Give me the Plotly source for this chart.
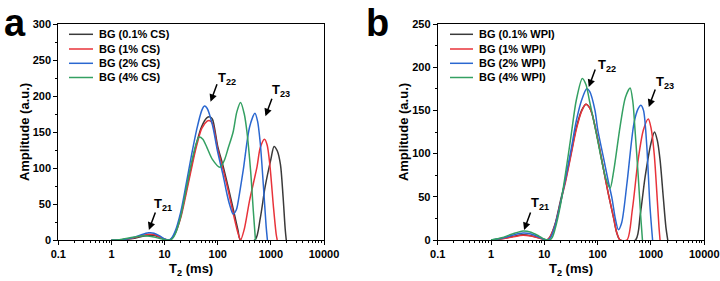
import plotly.graph_objects as go

# ---------------- data (T2 in ms, amplitude in a.u.) ----------------
SERIES_A = ["BG (0.1% CS)", "BG (1% CS)", "BG (2% CS)", "BG (4% CS)"]
SERIES_B = ["BG (0.1% WPI)", "BG (1% WPI)", "BG (2% WPI)", "BG (4% WPI)"]
COLORS = ["#3a3a3a", "#e8333a", "#2a67d0", "#34a062"]

# panel a
T2_A_01 = [1.0, 1.58, 2.51, 3.55, 5.01, 6.31, 7.94, 10.0, 11.7, 13.2, 15.8, 20.0, 25.1, 31.6, 39.8, 50.1, 63.1, 70.8, 79.4, 100, 126, 158, 200, 240, 269, 501, 631, 776, 1000, 1148, 1318, 1514, 1698, 1862, 1950]
AMP_A_01 = [0, 0.5, 2, 4.5, 6.5, 6.5, 4, 1, 0, 1, 10, 33, 66, 101, 134, 158, 170, 171, 168, 130, 103, 73, 40, 14, 0, 0, 30, 73, 112, 130, 124, 105, 60, 15, 0]
T2_A_1 = [1.0, 1.58, 2.51, 3.55, 5.01, 6.31, 7.94, 10.0, 11.7, 13.2, 15.8, 20.0, 25.1, 31.6, 39.8, 50.1, 63.1, 69.2, 79.4, 100, 126, 158, 200, 240, 269, 316, 398, 550, 631, 759, 851, 955, 1122, 1259, 1318]
AMP_A_1 = [0, 0.5, 2.5, 5.5, 8, 7.5, 4.5, 1, 0, 1, 9, 30, 62, 97, 130, 155, 165, 166, 162, 126, 98, 68, 34, 10, 0, 15, 55, 102, 128, 140, 132, 105, 45, 8, 0]
T2_A_2 = [1.0, 1.58, 2.51, 3.55, 5.01, 6.31, 7.94, 10.0, 11.7, 13.2, 15.8, 20.0, 25.1, 31.6, 39.8, 50.1, 56.2, 63.1, 79.4, 100, 126, 148, 166, 195, 224, 251, 302, 398, 501, 562, 631, 724, 813, 861]
AMP_A_2 = [0, 0.5, 3, 7, 10, 9.5, 6, 1.5, 0, 1.5, 12, 38, 75, 115, 152, 180, 186, 183, 160, 122, 90, 65, 50, 36, 42, 60, 97, 157, 176, 165, 135, 75, 20, 0]
T2_A_4 = [1.0, 1.41, 2.24, 3.16, 4.17, 5.62, 7.94, 10.0, 12.6, 14.1, 15.8, 20.0, 25.1, 31.6, 38.0, 44.7, 52.5, 63.1, 79.4, 110, 132, 158, 195, 229, 269, 316, 355, 417, 468, 513, 513]
AMP_A_4 = [0, 0.5, 3, 5, 6, 5, 2.5, 0.5, 0, 2, 8, 32, 68, 105, 130, 143, 140, 128, 112, 101, 110, 128, 150, 178, 191, 175, 150, 95, 40, 0, 0]

# panel b
T2_B_01 = [1.0, 1.58, 2.51, 3.98, 5.62, 7.94, 10.0, 11.2, 12.6, 15.8, 20.0, 25.1, 31.6, 39.8, 50.1, 60.3, 70.8, 79.4, 100, 126, 158, 200, 229, 263, 513, 631, 776, 1000, 1161, 1318, 1479, 1698, 1905, 2065]
AMP_B_01 = [0, 1.5, 4, 6, 5, 2.5, 0.5, 0, 3, 18, 45, 70, 100, 130, 150, 157, 153, 145, 117, 85, 54, 25, 8, 0, 0, 30, 73, 112, 125, 115, 93, 50, 15, 0]
T2_B_1 = [1.0, 1.58, 2.51, 3.98, 5.62, 7.94, 10.0, 11.2, 12.6, 15.8, 20.0, 25.1, 31.6, 39.8, 50.1, 59.9, 70.8, 79.4, 100, 126, 158, 200, 229, 263, 355, 447, 575, 724, 891, 1000, 1148, 1318, 1413, 1479]
AMP_B_1 = [0, 1.3, 3.5, 5.5, 4.5, 2.3, 0.5, 0, 3, 17, 43, 68, 98, 128, 149, 157, 153, 145, 117, 85, 54, 25, 8, 0, 0, 35, 93, 128, 140, 130, 100, 45, 15, 0]
T2_B_2 = [1.0, 1.58, 2.51, 3.98, 5.62, 7.94, 10.0, 11.5, 13.2, 15.8, 20.0, 25.1, 31.6, 39.8, 50.1, 62.4, 70.8, 89.1, 100, 126, 158, 186, 214, 245, 282, 355, 479, 575, 646, 724, 832, 955, 1072]
AMP_B_2 = [0, 2, 5.5, 8, 7, 3.5, 0.5, 0, 3, 16, 42, 72, 104, 138, 162, 175, 172, 150, 128, 98, 68, 48, 25, 12, 20, 66, 135, 152, 156, 150, 110, 40, 0]
T2_B_4 = [1.0, 1.58, 2.51, 3.98, 5.62, 7.94, 10.0, 12.0, 12.6, 14.1, 15.8, 20.0, 25.1, 31.6, 39.8, 51.6, 60.3, 70.8, 89.1, 112, 141, 171, 200, 263, 331, 406, 457, 501, 575, 646, 692]
AMP_B_4 = [0, 2.5, 7, 10.5, 9, 4.5, 1, 0, 0, 3, 12, 40, 78, 120, 162, 187, 180, 160, 131, 100, 72, 60, 80, 131, 165, 176, 160, 128, 75, 25, 0]

X_TICKS = [0.1, 1, 10, 100, 1000, 10000]
X_TICK_LABELS = ["0.1", "1", "10", "100", "1000", "10000"]

FONT = "Liberation Sans, Arial, sans-serif"
W, H = 720, 281

fig = go.Figure()

series_a = [(T2_A_01, AMP_A_01), (T2_A_1, AMP_A_1), (T2_A_2, AMP_A_2), (T2_A_4, AMP_A_4)]
series_b = [(T2_B_01, AMP_B_01), (T2_B_1, AMP_B_1), (T2_B_2, AMP_B_2), (T2_B_4, AMP_B_4)]

for name, (x, y), c in zip(SERIES_A, series_a, COLORS):
    fig.add_trace(go.Scatter(x=x, y=y, name=name, mode="lines", showlegend=False,
                             line=dict(color=c, width=1.5, shape="spline", smoothing=0.8),
                             xaxis="x", yaxis="y"))
for name, (x, y), c in zip(SERIES_B, series_b, COLORS):
    fig.add_trace(go.Scatter(x=x, y=y, name=name, mode="lines", showlegend=False,
                             line=dict(color=c, width=1.5, shape="spline", smoothing=0.8),
                             xaxis="x2", yaxis="y2"))

ydom = [(H - 240) / H, (H - 24) / H]
xa_dom = [58.3 / W, 324 / W]
xb_dom = [437.7 / W, 704.3 / W]

def xaxis(domain, anchor):
    return dict(type="log", range=[-1, 4], domain=domain, anchor=anchor, automargin=False,
                tickvals=X_TICKS, ticktext=X_TICK_LABELS,
                ticks="outside", ticklen=4, tickwidth=1, tickcolor="black",
                minor=dict(ticks="outside", ticklen=2, tickcolor="black", dtick="D1"),
                showline=True, linecolor="black", linewidth=1, mirror=True,
                showgrid=False, zeroline=False,
                tickfont=dict(family=FONT, size=11, color="black", weight="bold"),
                title=dict(text="T<sub>2</sub> (ms)", standoff=4,
                           font=dict(family=FONT, size=13, color="black", weight="bold")))

def yaxis(domain, anchor, top):
    return dict(range=[0, top], domain=domain, anchor=anchor, dtick=50, automargin=False,
                ticks="outside", ticklen=4, tickwidth=1, tickcolor="black",
                minor=dict(ticks="outside", ticklen=2, tickcolor="black", dtick=25),
                showline=True, linecolor="black", linewidth=1, mirror=True,
                showgrid=False, zeroline=False,
                tickfont=dict(family=FONT, size=11, color="black", weight="bold"),
                title=dict(text="Amplitude (a.u.)", standoff=0,
                           font=dict(family=FONT, size=13, color="black", weight="bold")))

fig.update_layout(
    width=W, height=H, margin=dict(l=0, r=0, t=0, b=0),
    paper_bgcolor="white", plot_bgcolor="white", showlegend=False,
    font=dict(family=FONT, color="black"),
    xaxis=xaxis(xa_dom, "y"), yaxis=yaxis(ydom, "x", 300),
    xaxis2=xaxis(xb_dom, "y2"), yaxis2=yaxis(ydom, "x2", 250),
)

# manual legends (line sample + text), pixel positions
LEG_ROWS_Y = [34.3, 49.0, 63.3, 77.5]
for names, lx0, lx1, tx in [(SERIES_A, 69, 93, 97), (SERIES_B, 450, 473, 477)]:
    for name, c, yy in zip(names, COLORS, LEG_ROWS_Y):
        fig.add_shape(type="line", xref="paper", yref="paper",
                      x0=lx0 / W, x1=lx1 / W, y0=1 - yy / H, y1=1 - yy / H,
                      line=dict(color=c, width=1.5))
        fig.add_annotation(text=name, x=tx / W, y=1 - yy / H, xref="paper", yref="paper",
                           xanchor="left", yanchor="middle", showarrow=False,
                           font=dict(family=FONT, size=11, color="black", weight="bold"))

# panel letters
fig.add_annotation(text="a", x=2 / W, y=1, xref="paper", yref="paper",
                   xanchor="left", yanchor="top", showarrow=False,
                   font=dict(family=FONT, size=38, color="black", weight="bold"))
fig.add_annotation(text="b", x=364 / W, y=1, xref="paper", yref="paper",
                   xanchor="left", yanchor="top", showarrow=False,
                   font=dict(family=FONT, size=38, color="black", weight="bold"))

# peak labels: (xref, yref, label, tip log10(T2), tip amp, label log10(T2), label amp)
LABELS = [
    ("x", "y", "T<sub>21</sub>", 0.705, 14, 0.97, 50),
    ("x", "y", "T<sub>22</sub>", 1.865, 192, 2.17, 224),
    ("x", "y", "T<sub>23</sub>", 2.898, 172, 3.20, 207),
    ("x2", "y2", "T<sub>21</sub>", 0.62, 11.6, 0.92, 42),
    ("x2", "y2", "T<sub>22</sub>", 1.833, 177, 2.17, 202),
    ("x2", "y2", "T<sub>23</sub>", 2.959, 154, 3.265, 182),
]
for xr, yr, lab, tx, ty, lx, ly in LABELS:
    fig.add_annotation(text="", x=tx, y=ty, xref=xr, yref=yr, showarrow=True,
                       ax=7, ay=-19, arrowhead=2, arrowsize=1, arrowwidth=1.5,
                       arrowcolor="black", standoff=0)
    fig.add_annotation(text=lab, x=lx, y=ly, xref=xr, yref=yr, showarrow=False,
                       font=dict(family=FONT, size=13, color="black", weight="bold"))

fig.write_html("out.html")
